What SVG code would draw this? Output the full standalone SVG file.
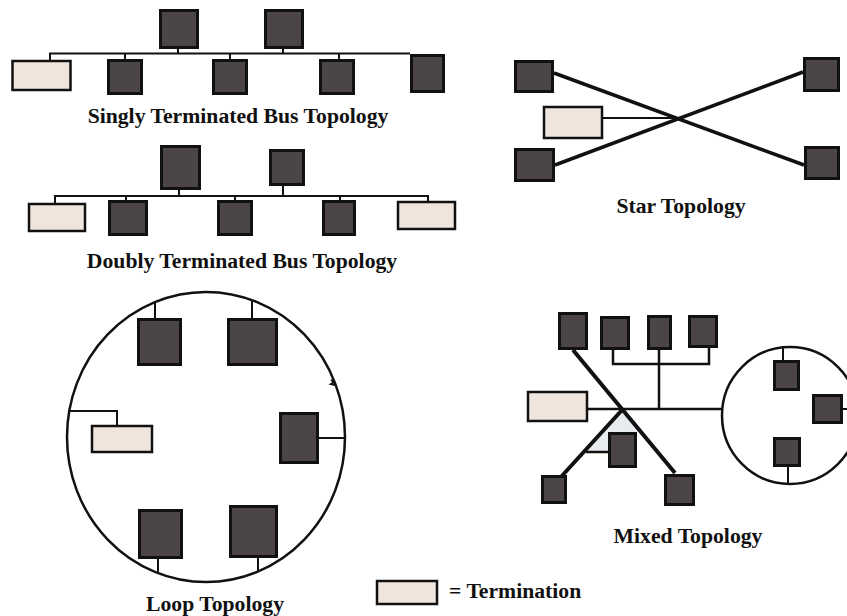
<svg xmlns="http://www.w3.org/2000/svg" width="847" height="616" viewBox="0 0 847 616">
<style>
.n{fill:#4b4545;stroke:#111;stroke-width:3}
.t{fill:#efe5dc;stroke:#111;stroke-width:2.5}
.w{fill:none;stroke:#111;stroke-width:2}
.k{fill:none;stroke:#111;stroke-width:3.5}
.lbl{font-family:"Liberation Serif","Times New Roman",serif;font-weight:bold;font-size:21.7px;fill:#111}
</style>
<rect width="847" height="616" fill="#fff"/>
<g id="connectors">
  <path class="w" d="M50,60 V53.5 H410 M178,49 V53.5 M283,49 V53.5 M125,53.5 V59 M230,53.5 V59 M339,53.5 V59"/>
  <path class="w" d="M55,203 V196 H428 V201 M179,190 V196 M283,186 V196 M126,196 V200 M235,196 V200 M340,196 V200"/>
  <path class="k" d="M554,73 L804,165 M555,165 L803,72"/>
  <path class="w" d="M603,118 H677"/>
  <ellipse cx="206" cy="437" rx="139" ry="145" fill="none" stroke="#111" stroke-width="2.5"/>
  <path class="w" d="M155,302 V318 M252,300 V318 M69,411 H117 V425 M319,438 H345 M158,559 V573 M258,558 V571.5"/>
  <path fill="none" stroke="#111" stroke-width="2" d="M331,380 l3,2 l-3,2 l4,1"/>
  <polygon points="622,411 586,452 608,452 608,432 640,432" fill="#e8ebf0"/>
  <path fill="none" stroke="#111" stroke-width="2.5" d="M613,350 V364 H709 V348 M659,350 V409 M588,409 H722 M586,452 H608"/>
  <path fill="none" stroke="#111" stroke-width="4" d="M573,350 L675,473 M622,410 L560,478"/>
  <ellipse cx="790" cy="415.5" rx="68" ry="68.5" fill="none" stroke="#111" stroke-width="2.5"/>
  <path class="w" d="M783,347.5 V360 M788,467 V484 M843,409 H858"/>
</g>
<g id="s-top1"><rect class="n" x="160.5" y="10.5" width="37" height="37"/></g>
<g id="s-top2"><rect class="n" x="265.5" y="10.5" width="37" height="37"/></g>
<g id="s-term"><rect class="t" x="12.5" y="61" width="58" height="29"/></g>
<g id="s-b1"><rect class="n" x="108.5" y="60.5" width="33" height="33"/></g>
<g id="s-b2"><rect class="n" x="213.5" y="60.5" width="33" height="33"/></g>
<g id="s-b3"><rect class="n" x="320.5" y="60.5" width="33" height="33"/></g>
<g id="s-b4"><rect class="n" x="411.5" y="55.5" width="32" height="36"/></g>
<text class="lbl" x="238" y="123" text-anchor="middle">Singly Terminated Bus Topology</text>
<g id="d-top1"><rect class="n" x="161.5" y="146.5" width="38" height="42"/></g>
<g id="d-top2"><rect class="n" x="270.5" y="150.5" width="33" height="34"/></g>
<g id="d-termL"><rect class="t" x="29" y="204" width="56" height="27"/></g>
<g id="d-b1"><rect class="n" x="109.5" y="201.5" width="37" height="33"/></g>
<g id="d-b2"><rect class="n" x="218.5" y="201.5" width="33" height="33"/></g>
<g id="d-b3"><rect class="n" x="323.5" y="201.5" width="31" height="33"/></g>
<g id="d-termR"><rect class="t" x="398" y="202" width="57" height="27"/></g>
<text class="lbl" x="242" y="268" text-anchor="middle">Doubly Terminated Bus Topology</text>
<g id="st-tl"><rect class="n" x="515.5" y="61.5" width="37" height="30"/></g>
<g id="st-term"><rect class="t" x="544" y="107" width="58" height="31"/></g>
<g id="st-bl"><rect class="n" x="515.5" y="149.5" width="38" height="31"/></g>
<g id="st-tr"><rect class="n" x="804.5" y="58.5" width="34" height="32"/></g>
<g id="st-br"><rect class="n" x="805.5" y="147.5" width="33" height="31"/></g>
<text class="lbl" x="681" y="213" text-anchor="middle">Star Topology</text>
<g id="l-t1"><rect class="n" x="138.5" y="319.5" width="42" height="45"/></g>
<g id="l-t2"><rect class="n" x="228.5" y="319.5" width="48" height="45"/></g>
<g id="l-term"><rect class="t" x="92" y="426" width="60" height="26"/></g>
<g id="l-r"><rect class="n" x="280.5" y="413.5" width="37" height="49"/></g>
<g id="l-b1"><rect class="n" x="139.5" y="510.5" width="42" height="47"/></g>
<g id="l-b2"><rect class="n" x="230.5" y="506.5" width="46" height="50"/></g>
<text class="lbl" x="215" y="611" text-anchor="middle">Loop Topology</text>
<g id="m-a"><rect class="n" x="559.5" y="313.5" width="27" height="35"/></g>
<g id="m-b"><rect class="n" x="601.5" y="317.5" width="27" height="31"/></g>
<g id="m-c"><rect class="n" x="648.5" y="316.5" width="22" height="32"/></g>
<g id="m-d"><rect class="n" x="689.5" y="316.5" width="27" height="30"/></g>
<g id="m-term"><rect class="t" x="528" y="392" width="59" height="29"/></g>
<g id="m-e"><rect class="n" x="609.5" y="433.5" width="26" height="33"/></g>
<g id="m-f"><rect class="n" x="542.5" y="476.5" width="23" height="26"/></g>
<g id="m-g"><rect class="n" x="665.5" y="475.5" width="28" height="29"/></g>
<g id="m-i"><rect class="n" x="774.5" y="361.5" width="24" height="28"/></g>
<g id="m-h"><rect class="n" x="813.5" y="395.5" width="28" height="27"/></g>
<g id="m-j"><rect class="n" x="774.5" y="438.5" width="25" height="27"/></g>
<text class="lbl" x="688" y="543" text-anchor="middle">Mixed Topology</text>
<g id="legend"><rect class="t" x="377" y="581" width="60" height="23"/></g>
<text class="lbl" x="449" y="598">= Termination</text>
</svg>
